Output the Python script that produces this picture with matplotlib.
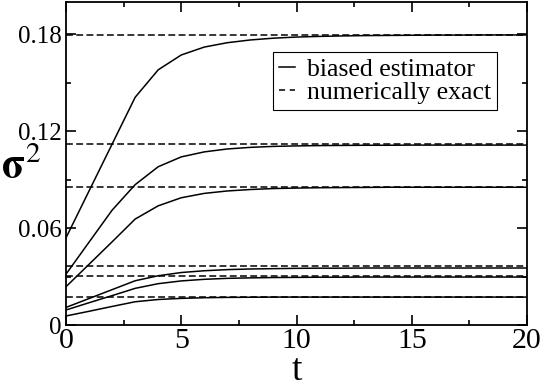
import matplotlib

matplotlib.use("Agg")
import matplotlib.pyplot as plt
from matplotlib.lines import Line2D
from matplotlib.ticker import FixedLocator, MultipleLocator

plt.rcParams["font.family"] = ["Liberation Serif", "DejaVu Serif"]
plt.rcParams["mathtext.fontset"] = "stix"

# time steps
t = list(range(21))

# biased estimator curves
est_1 = [0.054, 0.083, 0.112, 0.141, 0.158, 0.1672, 0.1721, 0.1748, 0.1765, 0.1776,
         0.1783, 0.1787, 0.1790, 0.1792, 0.1793, 0.1794, 0.1795, 0.1795, 0.1796, 0.1796, 0.1796]
est_2 = [0.0315, 0.0513, 0.0711, 0.0869, 0.0980, 0.1041, 0.1072, 0.1090, 0.1100, 0.1106,
         0.1109, 0.1111, 0.1112, 0.1113, 0.1113, 0.1114, 0.1114, 0.1114, 0.1114, 0.1114, 0.1114]
est_3 = [0.0237, 0.0376, 0.0515, 0.0656, 0.0738, 0.0788, 0.0815, 0.0830, 0.0839, 0.0845,
         0.0848, 0.0850, 0.0851, 0.0852, 0.0853, 0.0853, 0.0853, 0.0853, 0.0853, 0.0853, 0.0853]
est_4 = [0.0109, 0.0164, 0.0219, 0.0274, 0.0305, 0.0325, 0.0336, 0.0343, 0.0347, 0.0349,
         0.0351, 0.0352, 0.0352, 0.0353, 0.0353, 0.0353, 0.0353, 0.0353, 0.0353, 0.0353, 0.0353]
est_5 = [0.0093, 0.0138, 0.0182, 0.0227, 0.0256, 0.0273, 0.0283, 0.0289, 0.0292, 0.0294,
         0.0295, 0.0296, 0.0296, 0.0297, 0.0297, 0.0297, 0.0297, 0.0297, 0.0297, 0.0297, 0.0297]
est_6 = [0.0056, 0.0085, 0.0115, 0.0144, 0.0158, 0.0165, 0.0169, 0.0171, 0.0172, 0.0173,
         0.0173, 0.0173, 0.0173, 0.0173, 0.0173, 0.0173, 0.0173, 0.0173, 0.0173, 0.0173, 0.0173]
estimates = [est_1, est_2, est_3, est_4, est_5, est_6]

# numerically exact values
exact = [0.1798, 0.1120, 0.0857, 0.0367, 0.0305, 0.0175]

x_ticks = [0, 5, 10, 15, 20]
x_labels = ["0", "5", "10", "15", "20"]
y_ticks = [0, 0.06, 0.12, 0.18]
y_labels = ["0", "0.06", "0.12", "0.18"]

fig = plt.figure(figsize=(5.45, 3.84), dpi=100)
ax = fig.add_axes([0.1211, 0.1536, 0.8459, 0.8412])

for e in exact:
    ax.axhline(e, color="black", lw=1.1, dashes=(4.5, 2.2))
for est in estimates:
    ax.plot(t, est, color="black", lw=1.1)

ax.set_xlim(0, 20)
ax.set_ylim(0, 0.2)
ax.xaxis.set_major_locator(FixedLocator(x_ticks))
ax.set_xticklabels(x_labels, fontsize=21.5)
ax.xaxis.set_minor_locator(MultipleLocator(2.5))
ax.yaxis.set_major_locator(FixedLocator(y_ticks))
ax.set_yticklabels(y_labels, fontsize=18)
ax.yaxis.set_minor_locator(MultipleLocator(0.03))
ax.tick_params(which="both", direction="in", top=True, right=True, width=1.2)
ax.tick_params(which="major", length=7)
ax.tick_params(axis="x", which="major", pad=2)
ax.tick_params(axis="y", which="major", pad=3)
ax.tick_params(which="minor", length=3.5)
for s in ax.spines.values():
    s.set_linewidth(1.3)

# axis labels placed directly in figure pixels
fig.text(296.5 / 545, 1 - 380 / 384, "t", fontsize=27, ha="center", va="baseline")
fig.text(1 / 545, 1 - 178 / 384, r"$\mathbf{\sigma}^{2}$", fontsize=30,
         ha="left", va="baseline")

handles = [
    Line2D([], [], color="black", lw=1.1),
    Line2D([], [], color="black", lw=1.1, dashes=(4, 3)),
]
leg = ax.legend(handles, ["biased estimator", "numerically exact"],
                loc="upper left", bbox_to_anchor=(0.449, 0.845),
                fontsize=18.5, handlelength=0.62, handletextpad=0.47,
                borderpad=0.23, labelspacing=0.0, borderaxespad=0,
                fancybox=False, framealpha=1, edgecolor="black")
leg.get_frame().set_linewidth(0.8)

fig.savefig("out.png", dpi=100)
